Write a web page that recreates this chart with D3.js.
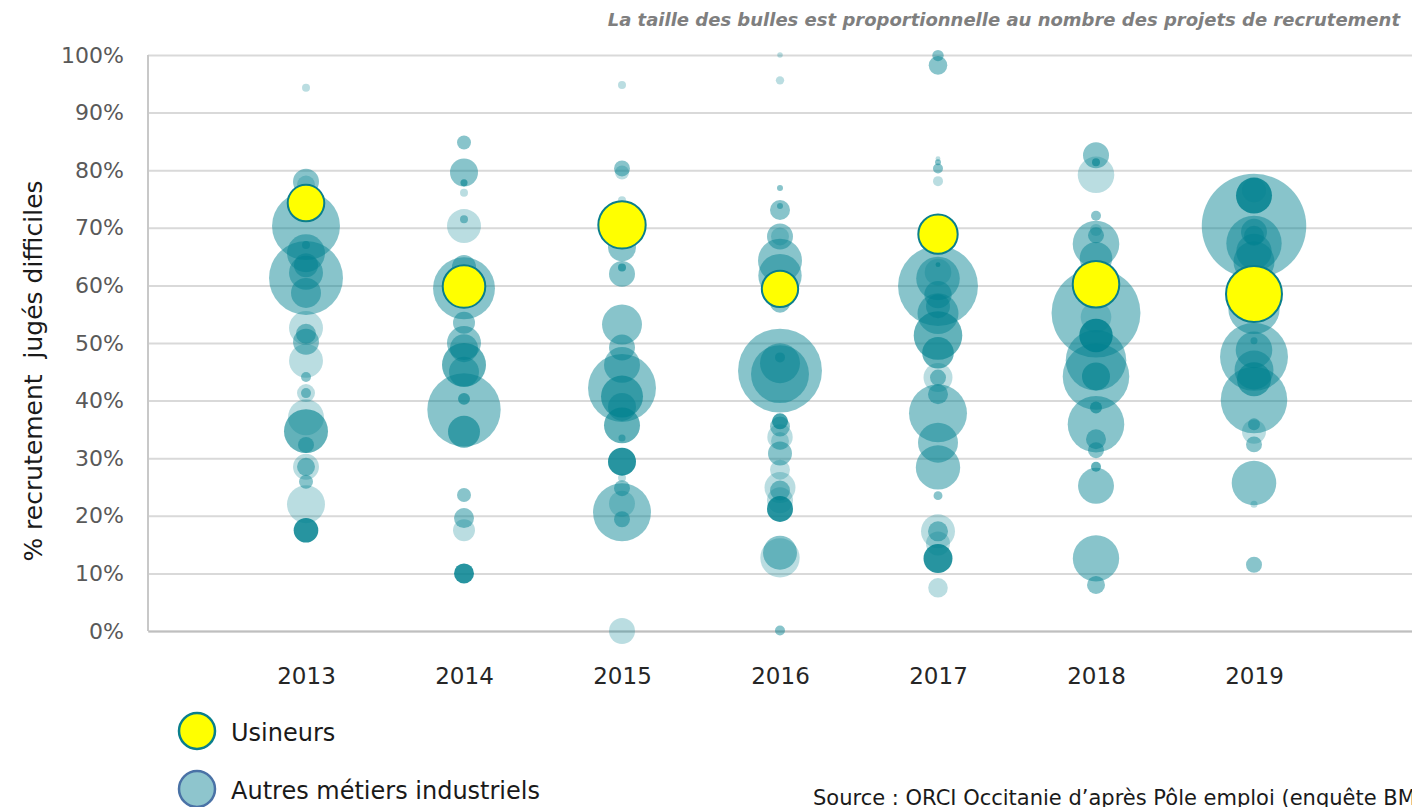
<!DOCTYPE html>
<html lang="fr">
<head>
<meta charset="utf-8">
<script src="https://cdn.jsdelivr.net/npm/d3@7"></script>
<style>
  html, body { margin: 0; padding: 0; background: #ffffff; }
  svg { display: block; }
  text { font-family: "DejaVu Sans", "Open Sans", sans-serif; }
</style>
</head>
<body>
<svg id="chart" width="1412" height="807"></svg>
<script>
// ---------------- DATA ----------------
const years = [2013, 2014, 2015, 2016, 2017, 2018, 2019];
const yTicks = [0, 10, 20, 30, 40, 50, 60, 70, 80, 90, 100];

// Usineurs : taux de recrutements jugés difficiles (%) et nombre de projets
const usineursTaux    = [74.3, 59.8, 70.5, 59.4, 68.9, 60.2, 58.5];
const usineursProjets = [670, 907, 1123, 662, 776, 1086, 1568];

// Autres métiers industriels : [taux %, projets de recrutement, métiers superposés]
const autres2013 = [
  [94.3, 32, 1], [78.0, 338, 2], [77.5, 162, 1], [70.3, 2312, 2], [61.3, 2738, 2],
  [65.6, 722, 2], [67.0, 32, 2], [62.2, 578, 2], [63.5, 288, 2], [58.7, 450, 2],
  [52.6, 578, 1], [51.6, 200, 2], [50.2, 338, 2], [46.9, 578, 1], [44.1, 50, 2],
  [41.3, 162, 1], [41.3, 50, 2], [37.1, 648, 1], [34.7, 968, 3], [32.3, 128, 2],
  [28.5, 338, 1], [28.5, 162, 2], [25.9, 98, 2], [22.0, 722, 1], [17.5, 303, 6]
];
const autres2014 = [
  [84.8, 98, 2], [79.6, 392, 2], [77.8, 25, 3], [76.1, 32, 1], [70.3, 578, 1],
  [71.5, 32, 2], [59.5, 1922, 2], [63.2, 288, 2], [53.5, 242, 2], [50.0, 578, 2],
  [49.1, 392, 2], [46.2, 968, 3], [45.0, 450, 2], [40.3, 72, 3], [38.4, 2694, 2],
  [34.6, 512, 3], [23.6, 98, 2], [19.6, 200, 2], [17.5, 242, 1], [10.0, 200, 6]
];
const autres2015 = [
  [94.8, 32, 1], [80.3, 128, 2], [79.6, 98, 1], [74.8, 32, 1], [66.6, 392, 2],
  [62.0, 338, 2], [63.1, 32, 3], [53.2, 800, 2], [49.2, 338, 2], [46.2, 648, 2],
  [42.2, 2312, 2], [40.7, 882, 3], [38.9, 392, 2], [35.7, 648, 3], [33.5, 25, 2],
  [29.4, 392, 6], [26.6, 32, 1], [24.8, 128, 2], [22.1, 338, 1], [20.6, 1682, 2],
  [19.4, 128, 2], [0.0, 338, 1]
];
const autres2016 = [
  [100, 15, 1], [95.6, 35, 1], [76.9, 18, 2], [73.1, 200, 2], [73.8, 18, 2],
  [68.5, 338, 2], [68.5, 162, 1], [64.3, 968, 2], [61.7, 942, 2], [57.0, 200, 2],
  [45.2, 3528, 2], [46.5, 800, 2], [44.6, 1682, 2], [47.5, 50, 2], [36.4, 128, 4],
  [35.5, 200, 2], [33.7, 323, 1], [33.0, 162, 1], [30.8, 288, 2], [28.0, 200, 1],
  [24.9, 480, 1], [24.4, 200, 2], [22.7, 338, 1], [21.2, 338, 6], [13.6, 578, 2],
  [12.7, 776, 1], [0.1, 50, 2]
];
const autres2017 = [
  [99.9, 65, 2], [98.2, 173, 2], [82.0, 12, 1], [81.4, 18, 2], [80.3, 50, 2],
  [78.1, 50, 1], [59.9, 3200, 2], [61.2, 950, 2], [62.3, 354, 1], [63.6, 12, 3],
  [58.4, 375, 2], [56.4, 288, 2], [55.1, 840, 2], [51.3, 1181, 3], [48.3, 499, 3],
  [44.0, 420, 1], [44.0, 128, 2], [41.1, 200, 2], [37.8, 1682, 2], [32.7, 800, 2],
  [28.4, 986, 2], [23.5, 40, 2], [17.3, 578, 1], [17.3, 200, 2], [15.2, 288, 1],
  [12.6, 420, 6], [7.5, 192, 1]
];
const autres2018 = [
  [82.6, 338, 2], [81.4, 32, 3], [79.2, 670, 1], [72.1, 50, 2], [67.2, 1086, 2],
  [68.7, 128, 2], [69.6, 72, 1], [64.7, 531, 2], [55.2, 3960, 2], [54.5, 468, 1],
  [51.3, 558, 6], [47.0, 1836, 2], [44.2, 2218, 2], [44.2, 392, 3], [38.8, 72, 3],
  [35.9, 1602, 2], [33.3, 200, 2], [31.4, 128, 2], [28.5, 50, 3], [25.2, 648, 2],
  [12.6, 1076, 2], [8.0, 162, 2]
];
const autres2019 = [
  [70.3, 5470, 2], [75.6, 648, 6], [76.5, 288, 1], [67.3, 1535, 2], [69.3, 338, 2],
  [68.6, 200, 2], [65.9, 627, 2], [64.1, 840, 2], [56.0, 1321, 2], [50.4, 25, 2],
  [47.6, 2312, 2], [48.8, 670, 2], [45.3, 760, 2], [43.7, 578, 3], [40.1, 2218, 2],
  [35.9, 72, 2], [34.6, 288, 1], [32.4, 128, 2], [25.7, 995, 2], [22.0, 25, 1],
  [11.5, 128, 2]
];
const autresParAnnee = [autres2013, autres2014, autres2015, autres2016, autres2017, autres2018, autres2019];

const noteTexte = "La taille des bulles est proportionnelle au nombre des projets de recrutement";
const axeYTitre = "% recrutement\u00a0\u00a0jugés difficiles";
const legendeLabels = ["Usineurs", "Autres métiers industriels"];
const sourceTexte = "Source : ORCI Occitanie d\u2019après Pôle emploi (enquête BMO)";

// ---------------- CHART ----------------
const W = 1412, H = 807;
const svg = d3.select("#chart");
const teal = "#00818f";
const baseAlpha = 0.27;

const x = d3.scaleLinear().domain([2012, 2020]).range([148, 1412]);
const y = d3.scaleLinear().domain([0, 100]).range([631, 55]);
const r = d3.scaleSqrt().domain([0, 5500]).range([0, 52.4]);

// Grid lines
svg.append("g")
  .attr("transform", "translate(148,0)")
  .call(d3.axisLeft(y).tickValues(yTicks).tickSize(-(W - 148)).tickFormat(""))
  .call(g => g.select(".domain").remove())
  .call(g => g.selectAll(".tick line").attr("stroke", "#d9d9d9").attr("stroke-width", 2));

// Y axis labels
svg.append("g")
  .attr("transform", "translate(148,0)")
  .call(d3.axisLeft(y).tickValues(yTicks).tickSize(0).tickPadding(24).tickFormat(d => d + "%"))
  .call(g => g.select(".domain").remove())
  .call(g => g.selectAll("text")
    .attr("fill", "#595959")
    .style("font-size", "22px")
    .style("font-family", "'DejaVu Sans', sans-serif"));

// Left axis line
svg.append("line")
  .attr("x1", 148).attr("x2", 148).attr("y1", y(100)).attr("y2", y(0))
  .attr("stroke", "#c8c8c8").attr("stroke-width", 2);

// X axis
svg.append("g")
  .attr("transform", `translate(0,${y(0)})`)
  .call(d3.axisBottom(x).tickValues(years).tickSize(0).tickPadding(37).tickFormat(d3.format("d")))
  .call(g => g.select(".domain").attr("stroke", "#bfbfbf").attr("stroke-width", 2))
  .call(g => g.selectAll("text")
    .attr("fill", "#262626")
    .style("font-size", "23px")
    .style("font-family", "'DejaVu Sans', sans-serif"));

// Bubbles : autres métiers
const autres = [];
autresParAnnee.forEach((arr, i) => {
  arr.forEach(d => autres.push({ annee: years[i], taux: d[0], projets: d[1], n: d[2] }));
});
autres.sort((a, b) => b.projets - a.projets);

svg.append("g")
  .selectAll("circle")
  .data(autres)
  .join("circle")
  .attr("cx", d => x(d.annee))
  .attr("cy", d => y(d.taux))
  .attr("r", d => r(d.projets))
  .attr("fill", teal)
  .attr("fill-opacity", d => 1 - Math.pow(1 - baseAlpha, d.n));

// Bubbles : usineurs
const usineurs = years.map((a, i) => ({ annee: a, taux: usineursTaux[i], projets: usineursProjets[i] }));
svg.append("g")
  .selectAll("circle")
  .data(usineurs)
  .join("circle")
  .attr("cx", d => x(d.annee))
  .attr("cy", d => y(d.taux))
  .attr("r", d => r(d.projets))
  .attr("fill", "#ffff00")
  .attr("stroke", "#0a7f8c")
  .attr("stroke-width", 2);

// Y axis title
svg.append("text")
  .attr("transform", `translate(42,${(y(0) + y(100)) / 2 + 28}) rotate(-90)`)
  .attr("text-anchor", "middle")
  .attr("fill", "#1a1a1a")
  .style("font-size", "25px")
  .text(axeYTitre);

// Note (top right)
svg.append("text")
  .attr("x", 1400).attr("y", 26)
  .attr("text-anchor", "end")
  .attr("fill", "#7f7f7f")
  .style("font-size", "18px")
  .style("font-weight", "bold")
  .style("font-style", "italic")
  .text(noteTexte);

// Legend
const legend = svg.append("g");
const legendItems = [
  { label: legendeLabels[0], fill: "#ffff00", stroke: "#0a7f8c", cy: 731 },
  { label: legendeLabels[1], fill: "#8ec5cd", stroke: "#4a72a6", cy: 789 }
];
legend.selectAll("circle")
  .data(legendItems)
  .join("circle")
  .attr("cx", 197).attr("cy", d => d.cy).attr("r", 18)
  .attr("fill", d => d.fill).attr("stroke", d => d.stroke).attr("stroke-width", 2.5);
legend.selectAll("text")
  .data(legendItems)
  .join("text")
  .attr("x", 231).attr("y", d => d.cy + 10)
  .attr("fill", "#1a1a1a")
  .style("font-size", "24px")
  .text(d => d.label);

// Source
svg.append("text")
  .attr("x", 813).attr("y", 805)
  .attr("fill", "#1a1a1a")
  .style("font-size", "21px")
  .text(sourceTexte);
</script>
</body>
</html>
